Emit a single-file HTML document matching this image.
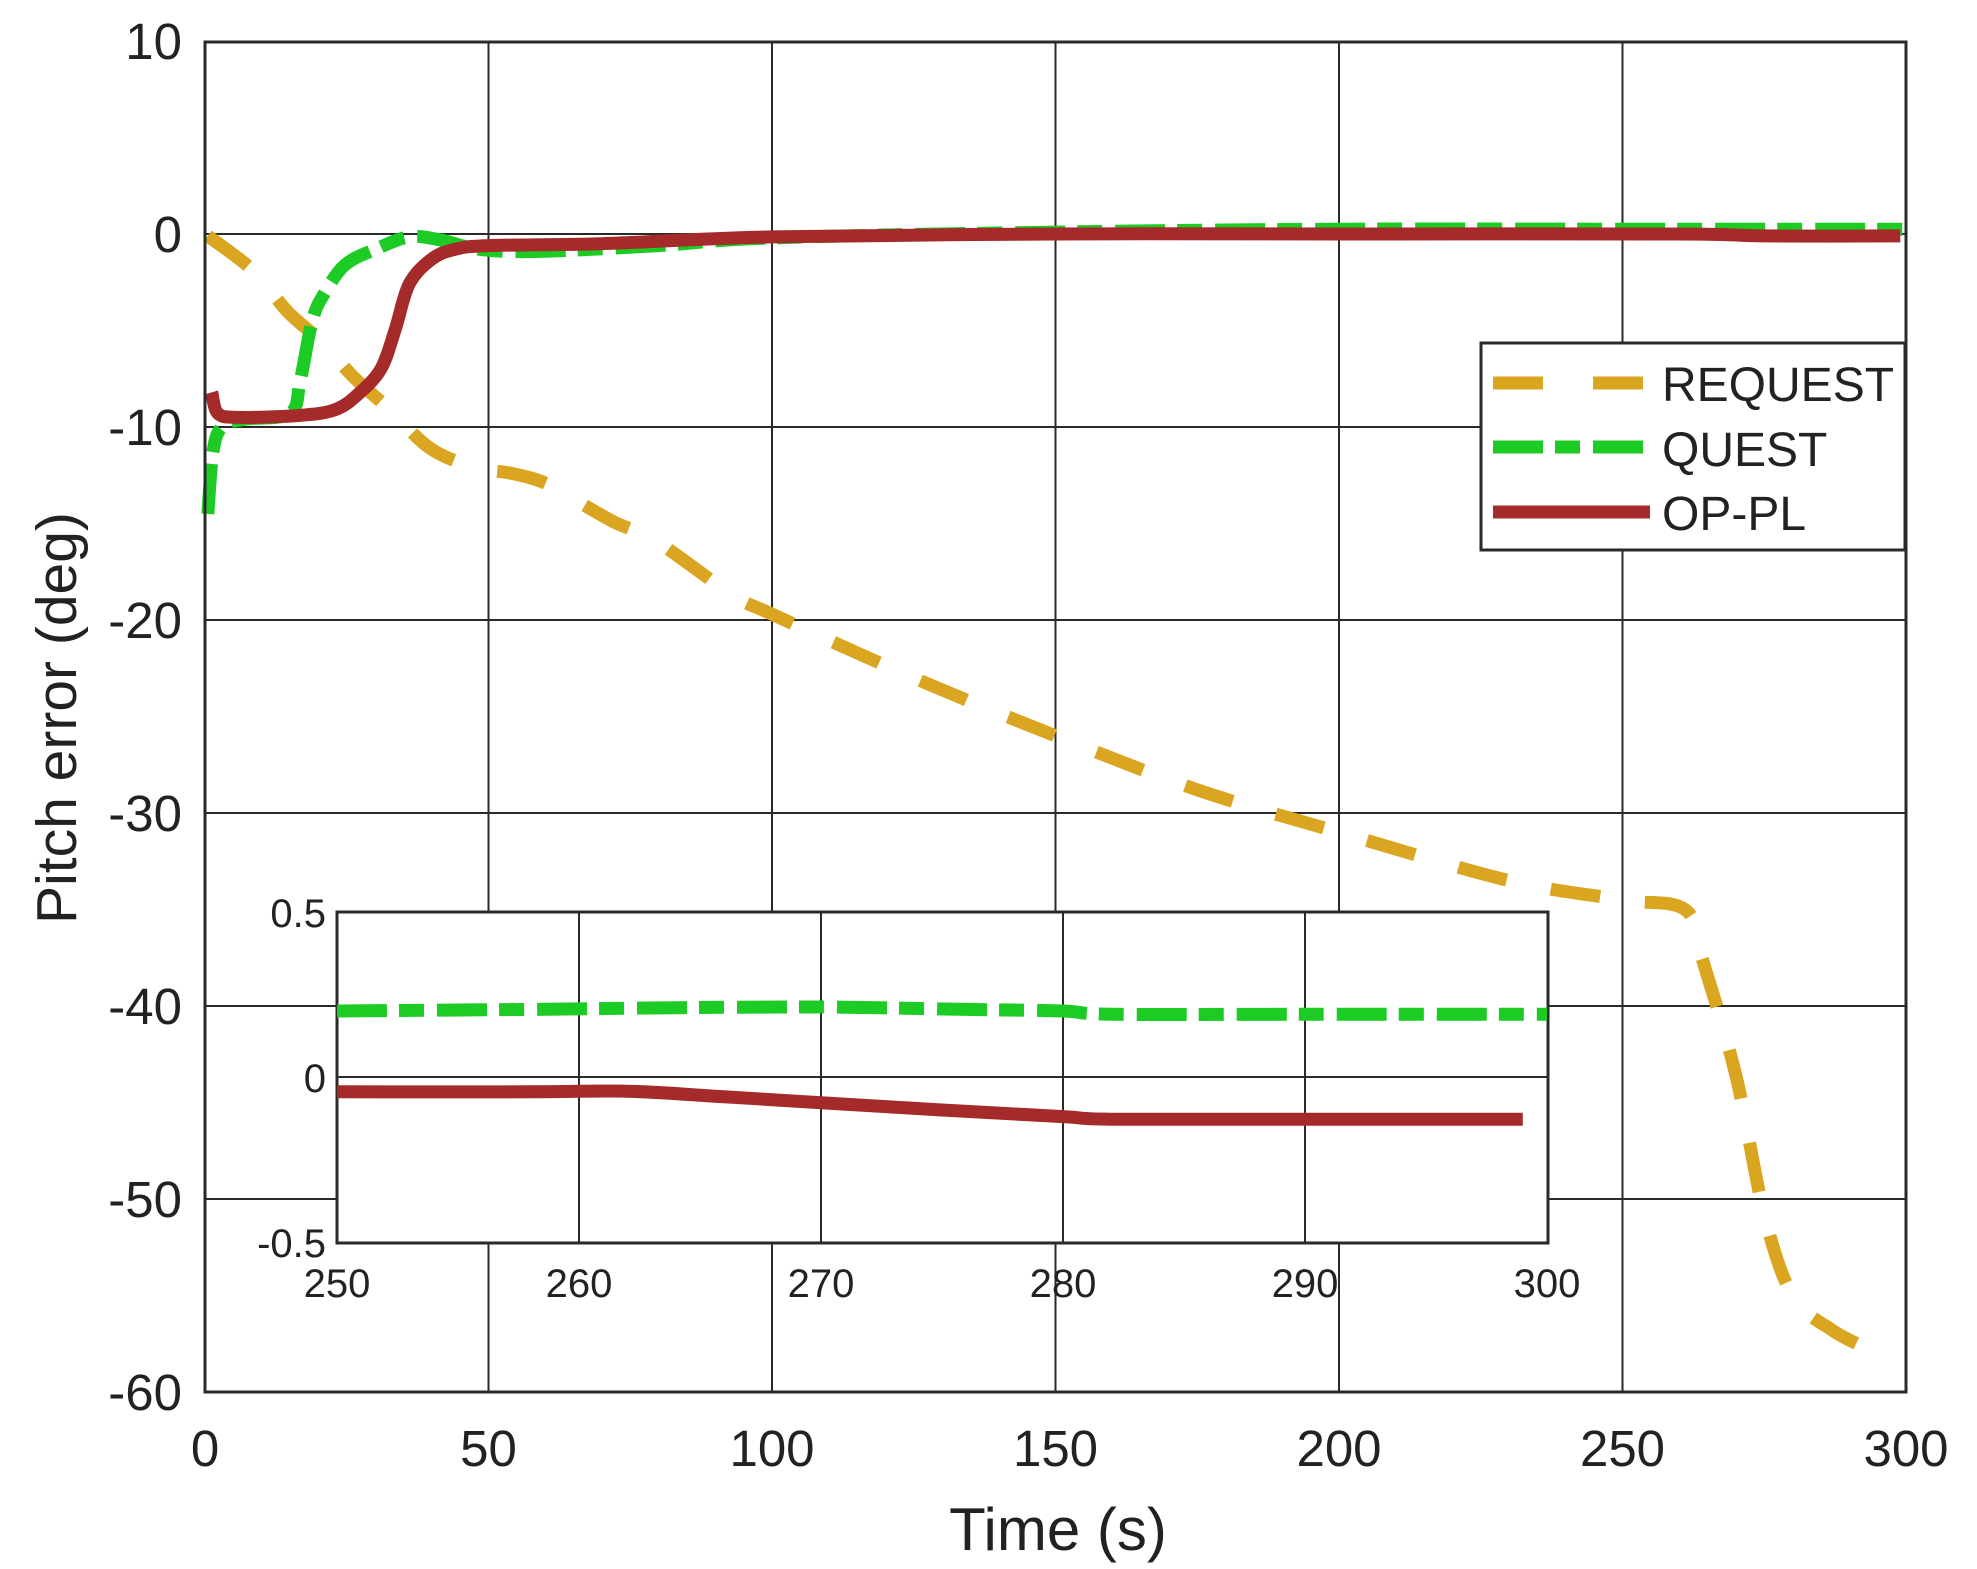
<!DOCTYPE html>
<html><head><meta charset="utf-8"><style>
html,body{margin:0;padding:0;background:#fff;}
svg{display:block;}
text{font-family:"Liberation Sans",Arial,sans-serif;fill:#222;}
</style></head><body>
<svg id="s" width="1977" height="1569" viewBox="0 0 1977 1569" xmlns="http://www.w3.org/2000/svg">
<rect width="1977" height="1569" fill="#fff"/>
<g id="grid" stroke="#2a2a2a" stroke-width="2"></g>
<g id="main" fill="none" stroke-linejoin="round"></g>
<rect x="205" y="42" width="1701" height="1350" fill="none" stroke="#2a2a2a" stroke-width="3"/>
<g id="ticks" font-size="51" text-anchor="end"></g>
<text x="1058" y="1550" font-size="60" text-anchor="middle">Time  (s)</text>
<text transform="translate(76,718) rotate(-90)" font-size="57" text-anchor="middle">Pitch error (deg)</text>
<!-- inset -->
<rect x="337" y="912" width="1211" height="331" fill="#fff" stroke="#2a2a2a" stroke-width="3"/>
<g id="igrid" stroke="#2a2a2a" stroke-width="2"></g>
<g id="inset" fill="none"></g>
<g id="iticks" font-size="40"></g>
<!-- legend -->
<rect x="1481" y="343" width="424" height="207" fill="#fff" stroke="#2a2a2a" stroke-width="3"/>
<line x1="1493" y1="383" x2="1643" y2="383" stroke="#DAA520" stroke-width="13" stroke-dasharray="50,50"/>
<line x1="1493" y1="447" x2="1643" y2="447" stroke="#1CCC24" stroke-width="13" stroke-dasharray="50,12,25,13"/>
<line x1="1493" y1="512" x2="1650" y2="512" stroke="#A52A2A" stroke-width="13"/>
<text x="1662" y="401" font-size="48">REQUEST</text>
<text x="1662" y="466" font-size="48">QUEST</text>
<text x="1662" y="530" font-size="48">OP-PL</text>
</svg>
<script>
const NS="http://www.w3.org/2000/svg";
function el(p,tag,a,txt){const e=document.createElementNS(NS,tag);for(const k in a)e.setAttribute(k,a[k]);if(txt!==undefined)e.textContent=txt;document.getElementById(p).appendChild(e);return e;}
const X=t=>205+5.67*t, Y=v=>234-19.3*v;
for(let t=50;t<300;t+=50)el('grid','line',{x1:X(t),y1:42,x2:X(t),y2:1392});
for(let v=0;v>-60;v-=10)el('grid','line',{x1:205,y1:Y(v),x2:1906,y2:Y(v)});
for(let v=10;v>=-60;v-=10)el('ticks','text',{x:182,y:Y(v)+18},String(v));
for(let t=0;t<=300;t+=50)el('ticks','text',{x:X(t),y:1466,'text-anchor':'middle'},String(t));
function smooth(pts){let d='M'+pts[0][0].toFixed(1)+','+pts[0][1].toFixed(1);
 for(let i=0;i<pts.length-1;i++){const p0=pts[i-1]||pts[i],p1=pts[i],p2=pts[i+1],p3=pts[i+2]||p2;
 const c1=[p1[0]+(p2[0]-p0[0])/6,p1[1]+(p2[1]-p0[1])/6],c2=[p2[0]-(p3[0]-p1[0])/6,p2[1]-(p3[1]-p1[1])/6];
 d+=`C${c1[0].toFixed(1)},${c1[1].toFixed(1)} ${c2[0].toFixed(1)},${c2[1].toFixed(1)} ${p2[0].toFixed(1)},${p2[1].toFixed(1)}`;}return d;}
const req=[[0.5,-0.1],[8.5,-1.9],[14.5,-4],[20.6,-5.6],[26.5,-7.5],[32.6,-9.1],[39.7,-11.1],[47.6,-12.1],[54,-12.4],[60,-12.9],[66,-13.9],[72,-14.9],[80,-16],[93,-18.7],[100,-19.7],[125,-23],[150,-26],[175,-28.8],[200,-31],[230,-33.5],[250,-34.5],[261,-35],[264,-37.5],[270,-43.6],[275,-50.8],[280,-55],[287,-56.8],[295,-58]];
const qu=[[0.5,-14.5],[1.4,-11.3],[3,-10],[7,-9.6],[15,-9.3],[16.8,-7.6],[18.9,-4.5],[21,-3.1],[24.7,-1.6],[30,-0.8],[36,-0.15],[41.4,-0.3],[48.5,-0.8],[59,-0.9],[80,-0.6],[100,-0.2],[150,0.1],[200,0.25],[250,0.25],[300,0.25]];
const op=[[1.2,-8.2],[2.3,-9.3],[6,-9.5],[16.8,-9.4],[23,-9.1],[27,-8.3],[31,-7],[33.5,-5],[36,-2.6],[40,-1.3],[44,-0.8],[50,-0.6],[70,-0.5],[100,-0.15],[150,0],[200,0],[260,0],[275,-0.1],[299,-0.1]];
const m=a=>a.map(p=>[X(p[0]),Y(p[1])]);
el('main','path',{d:smooth(m(req)),stroke:'#DAA520','stroke-width':13,'stroke-dasharray':'50,45'});
el('main','path',{d:smooth(m(qu)),stroke:'#1CCC24','stroke-width':13,'stroke-dasharray':'50,12,25,13'});
el('main','path',{d:smooth(m(op)),stroke:'#A52A2A','stroke-width':13});
const Xi=t=>337+(t-250)*24.2, Yi=v=>1077-330*v;
for(let t=260;t<300;t+=10)el('igrid','line',{x1:Xi(t),y1:912,x2:Xi(t),y2:1243});
el('igrid','line',{x1:337,y1:Yi(0),x2:1548,y2:Yi(0)});
[[0.5,'0.5'],[0,'0'],[-0.5,'-0.5']].forEach(([v,s])=>el('iticks','text',{x:326,y:Yi(v)+15,'text-anchor':'end'},s));
for(let t=250;t<=300;t+=10)el('iticks','text',{x:Xi(t),y:1297,'text-anchor':'middle'},String(t));
const iq=[[250,0.2],[258,0.205],[264,0.21],[270,0.212],[276,0.205],[280,0.2],[282,0.19],[290,0.19],[300,0.19]];
const io=[[250,-0.045],[258,-0.045],[262,-0.043],[266,-0.06],[270,-0.078],[275,-0.1],[280,-0.12],[282,-0.128],[290,-0.128],[299,-0.128]];
const mi=a=>a.map(p=>[Xi(p[0]),Yi(p[1])]);
el('inset','path',{d:smooth(mi(iq)),stroke:'#1CCC24','stroke-width':13,'stroke-dasharray':'50,12,25,13'});
el('inset','path',{d:smooth(mi(io)),stroke:'#A52A2A','stroke-width':13});
</script>
</body></html>
